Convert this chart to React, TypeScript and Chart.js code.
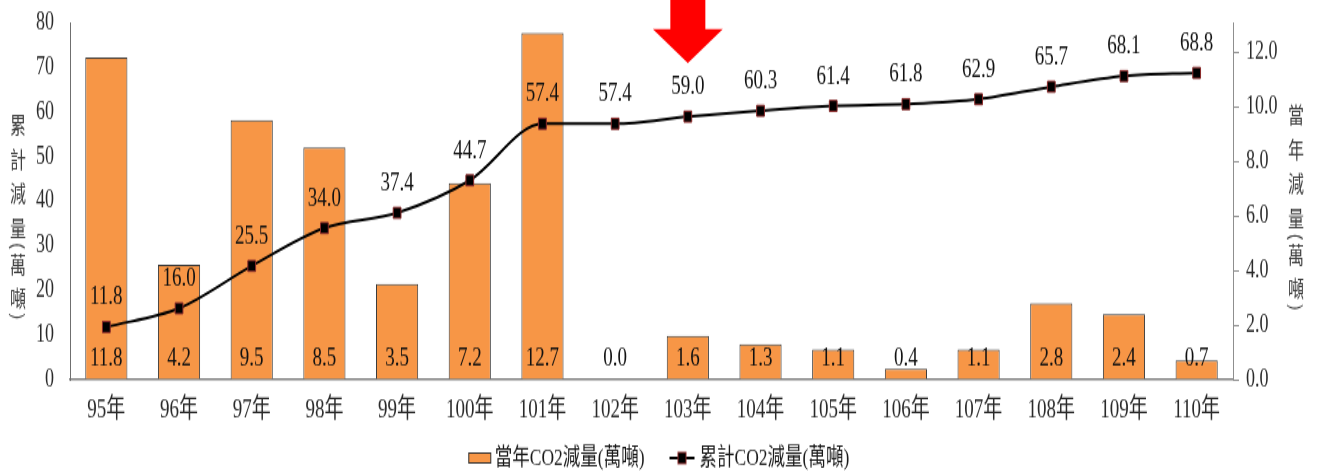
import React, { useEffect, useRef } from 'react';
import { Chart, registerables } from 'chart.js';

Chart.register(...registerables);

// ---- data ----
const categories = ['95年', '96年', '97年', '98年', '99年', '100年', '101年', '102年', '103年', '104年', '105年', '106年', '107年', '108年', '109年', '110年'];
const annualValues = [11.8, 4.2, 9.5, 8.5, 3.5, 7.2, 12.7, 0.0, 1.6, 1.3, 1.1, 0.4, 1.1, 2.8, 2.4, 0.7];
const cumulativeValues = [11.8, 16.0, 25.5, 34.0, 37.4, 44.7, 57.4, 57.4, 59.0, 60.3, 61.4, 61.8, 62.9, 65.7, 68.1, 68.8];
const annualLabel = '當年CO2減量(萬噸)';
const cumulativeLabel = '累計CO2減量(萬噸)';
const leftTitle = ['累', '計', '減', '量', '(', '萬', '噸', ')'];
const rightTitle = ['當', '年', '減', '量', '(', '萬', '噸', ')'];
const highlightIndex = 8;

const W = 1318;
const H = 337; // drawn at this height, shown stretched to 472 like the reference
const SERIF = "'Liberation Serif', 'Times New Roman', 'Noto Sans CJK TC', serif";
const CJK = "'Noto Sans CJK TC', 'Noto Sans CJK SC', sans-serif";
const ORANGE = '#F79646';

function drawVertical(ctx: CanvasRenderingContext2D, chars: string[], cx: number, startY: number) {
  let y = startY;
  let prevBracket = false;
  chars.forEach((ch, i) => {
    const br = ch === '(' || ch === ')';
    if (i > 0) y += br || prevBracket ? 13 : 24.5;
    if (br) {
      ctx.save();
      ctx.translate(cx, y);
      ctx.rotate(Math.PI / 2);
      ctx.fillText(ch, 0, 0);
      ctx.restore();
    } else {
      ctx.fillText(ch, cx, y);
    }
    prevBracket = br;
  });
}

const extrasPlugin = {
  id: 'extras',
  afterDatasetsDraw(chart: any) {
    const ctx: CanvasRenderingContext2D = chart.ctx;
    const barMeta = chart.getDatasetMeta(0);
    const lineMeta = chart.getDatasetMeta(1);
    const base = chart.scales.yRight.getPixelForValue(0);
    ctx.save();
    ctx.font = `19px ${SERIF}`;
    ctx.fillStyle = '#111';
    ctx.textAlign = 'center';
    ctx.textBaseline = 'middle';
    barMeta.data.forEach((el: any, i: number) => {
      ctx.fillText(annualValues[i].toFixed(1), el.x, base - 14.5);
    });
    lineMeta.data.forEach((el: any, i: number) => {
      ctx.fillText(cumulativeValues[i].toFixed(1), el.x, el.y - 21);
    });
    ctx.restore();
  },
  afterDraw(chart: any) {
    const ctx: CanvasRenderingContext2D = chart.ctx;
    const area = chart.chartArea;
    ctx.save();

    // red arrow above the highlighted year
    const ax = chart.scales.x.getPixelForValue(highlightIndex);
    const headTop = area.top + 4.3;
    const tip = area.top + 28.6;
    ctx.fillStyle = '#FF0000';
    ctx.beginPath();
    ctx.moveTo(ax - 17.5, 0);
    ctx.lineTo(ax + 17.5, 0);
    ctx.lineTo(ax + 17.5, headTop);
    ctx.lineTo(ax + 35, headTop);
    ctx.lineTo(ax, tip);
    ctx.lineTo(ax - 35, headTop);
    ctx.lineTo(ax - 17.5, headTop);
    ctx.closePath();
    ctx.fill();

    // vertical axis titles
    ctx.font = `16px ${CJK}`;
    ctx.fillStyle = '#404040';
    ctx.textAlign = 'center';
    ctx.textBaseline = 'middle';
    drawVertical(ctx, leftTitle, 18, area.top + 72.6);
    drawVertical(ctx, rightTitle, chart.width - 22, area.top + 66);

    // legend
    ctx.font = `17.5px ${SERIF}`;
    const w1 = ctx.measureText(annualLabel).width;
    const w2 = ctx.measureText(cumulativeLabel).width;
    const boxW = 22, gap = 4, spacing = 25, lineW = 25, gap2 = 5;
    const total = boxW + gap + w1 + spacing + lineW + gap2 + w2;
    let x = chart.width / 2 - total / 2;
    const y = chart.height - 10;
    ctx.fillStyle = ORANGE;
    ctx.fillRect(x, y - 3.5, boxW, 7);
    ctx.strokeStyle = '#333';
    ctx.lineWidth = 1;
    ctx.strokeRect(x, y - 3.5, boxW, 7);
    x += boxW + gap;
    ctx.fillStyle = '#1a1a1a';
    ctx.textAlign = 'left';
    ctx.fillText(annualLabel, x, y);
    x += w1 + spacing;
    ctx.strokeStyle = '#000';
    ctx.lineWidth = 2;
    ctx.beginPath();
    ctx.moveTo(x, y);
    ctx.lineTo(x + lineW, y);
    ctx.stroke();
    ctx.fillStyle = '#000';
    ctx.fillRect(x + lineW / 2 - 4, y - 4, 8, 8);
    ctx.strokeStyle = '#8b2a2a';
    ctx.lineWidth = 1;
    ctx.strokeRect(x + lineW / 2 - 4, y - 4, 8, 8);
    x += lineW + gap2;
    ctx.fillStyle = '#1a1a1a';
    ctx.fillText(cumulativeLabel, x, y);

    ctx.restore();
  },
};

export default function App() {
  const canvasRef = useRef<HTMLCanvasElement | null>(null);

  useEffect(() => {
    const canvas = canvasRef.current;
    if (!canvas) return;
    const chart = new Chart(canvas, {
      type: 'bar',
      data: {
        labels: categories,
        datasets: [
          {
            type: 'bar',
            label: annualLabel,
            data: annualValues,
            yAxisID: 'yRight',
            backgroundColor: ORANGE,
            borderColor: '#3a3a3a',
            borderWidth: 1,
            barPercentage: 0.58,
            categoryPercentage: 1.0,
            order: 2,
          },
          {
            type: 'line',
            label: cumulativeLabel,
            data: cumulativeValues,
            yAxisID: 'yLeft',
            borderColor: '#000',
            borderWidth: 2,
            cubicInterpolationMode: 'monotone',
            pointStyle: 'rect',
            pointRadius: 5.5,
            pointBackgroundColor: '#000',
            pointBorderColor: '#8b2a2a',
            pointBorderWidth: 1,
            order: 1,
          },
        ] as any,
      },
      options: {
        responsive: false,
        maintainAspectRatio: false,
        devicePixelRatio: 1,
        animation: false,
        layout: { padding: { top: 16.4, left: 0, right: 0, bottom: 0 } },
        plugins: {
          legend: { display: false },
          tooltip: { enabled: false },
        },
        scales: {
          x: {
            type: 'category',
            offset: true,
            grid: { display: false, drawTicks: false, tickLength: 0 },
            border: { display: true, color: '#7f7f7f', width: 1.5 },
            ticks: {
              font: { size: 19, family: SERIF },
              color: '#2a2a2a',
              padding: 11,
              maxRotation: 0,
              autoSkip: false,
            },
            afterFit(scale: any) {
              scale.height = 66;
            },
          },
          yLeft: {
            type: 'linear',
            position: 'left',
            min: 0,
            max: 80,
            grid: { display: true, drawOnChartArea: false, drawTicks: true, tickLength: 12, color: 'rgba(0,0,0,0)' },
            border: { display: true, color: '#6f6f6f', width: 1 },
            ticks: {
              stepSize: 10,
              includeBounds: false,
              font: { size: 18, family: SERIF, lineHeight: 1 },
              color: '#2a2a2a',
              padding: 4,
            },
            afterFit(scale: any) {
              scale.width = 70;
            },
          },
          yRight: {
            type: 'linear',
            position: 'right',
            min: 0,
            max: 13.06,
            grid: { display: true, drawOnChartArea: false, drawTicks: true, tickLength: 6, color: '#8f8f8f' },
            border: { display: true, color: '#8f8f8f', width: 1 },
            ticks: {
              stepSize: 2,
              includeBounds: false,
              font: { size: 18, family: SERIF, lineHeight: 1 },
              color: '#2a2a2a',
              padding: 7,
              callback: (v: any) => Number(v).toFixed(1),
            },
            afterBuildTicks(scale: any) {
              scale.ticks = scale.ticks.filter((t: any) => Math.abs(t.value / 2 - Math.round(t.value / 2)) < 1e-6);
            },
            afterFit(scale: any) {
              scale.width = 85;
            },
          },
        },
      } as any,
      plugins: [extrasPlugin],
    });
    return () => chart.destroy();
  }, []);

  return (
    <div style={{ position: 'absolute', left: 0, top: 0, width: W, height: 472, background: '#fff' }}>
      <canvas
        ref={canvasRef}
        width={W}
        height={H}
        style={{ width: `${W}px`, height: '472px', display: 'block' }}
      />
    </div>
  );
}
